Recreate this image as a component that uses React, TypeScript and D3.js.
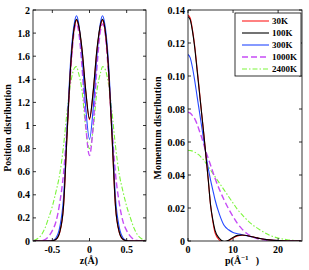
import React, { useRef, useEffect } from 'react';
import * as d3 from 'd3';

// position distribution (left panel)
const zValues = [
  -0.75, -0.7, -0.65, -0.6, -0.55, -0.5, -0.45, -0.4, -0.35, -0.3, -0.25, -0.2, -0.175, -0.15, -0.1, -0.05,
  0,
  0.05, 0.1, 0.15, 0.175, 0.2, 0.25, 0.3, 0.35, 0.4, 0.45, 0.5, 0.55, 0.6, 0.65, 0.7, 0.75,
];
const pos30K = [
  0, 0, 0, 0, 0, 0.002, 0.014, 0.075, 0.29, 0.94, 1.54, 1.86, 1.91, 1.87, 1.65, 1.29,
  1.05,
  1.29, 1.65, 1.87, 1.91, 1.86, 1.54, 0.94, 0.29, 0.075, 0.014, 0.002, 0, 0, 0, 0, 0,
];
const pos100K = [
  0, 0, 0, 0, 0, 0.002, 0.015, 0.08, 0.3, 0.95, 1.55, 1.87, 1.92, 1.88, 1.66, 1.3,
  1.06,
  1.3, 1.66, 1.88, 1.92, 1.87, 1.55, 0.95, 0.3, 0.08, 0.015, 0.002, 0, 0, 0, 0, 0,
];
const pos300K = [
  0, 0, 0, 0, 0.001, 0.004, 0.028, 0.12, 0.37, 1.0, 1.6, 1.9, 1.95, 1.9, 1.6, 1.15,
  0.88,
  1.15, 1.6, 1.9, 1.95, 1.9, 1.6, 1.0, 0.37, 0.12, 0.028, 0.004, 0.001, 0, 0, 0, 0,
];
const pos1000K = [
  0, 0, 0.003, 0.012, 0.04, 0.09, 0.17, 0.33, 0.58, 1.0, 1.5, 1.84, 1.88, 1.83, 1.5, 1.0,
  0.74,
  1.0, 1.5, 1.83, 1.88, 1.84, 1.5, 1.0, 0.58, 0.33, 0.17, 0.09, 0.04, 0.012, 0.003, 0, 0,
];
const pos2400K = [
  0.005, 0.02, 0.05, 0.11, 0.2, 0.3, 0.43, 0.58, 0.82, 1.13, 1.38, 1.5, 1.51, 1.46, 1.3, 0.97,
  0.8,
  0.97, 1.3, 1.46, 1.51, 1.5, 1.38, 1.13, 0.82, 0.58, 0.43, 0.3, 0.2, 0.11, 0.05, 0.02, 0.005,
];

// momentum distribution (right panel)
const pValues = [
  0, 0.5, 1, 1.5, 2, 2.5, 3, 3.5, 4, 4.5, 5, 5.5, 6, 7, 8, 9, 10, 11, 12, 13, 14, 15, 16, 18, 20, 22, 25,
];
const mom30K = [
  0.137, 0.135, 0.128, 0.118, 0.105, 0.092, 0.078, 0.065, 0.051, 0.037, 0.022, 0.012, 0.005, 0.0005, -0.0008,
  0.0002, 0.0018, 0.0031, 0.0035, 0.0033, 0.0027, 0.0021, 0.0015, 0.0007, 0.0002, 0, 0,
];
const mom100K = [
  0.136, 0.134, 0.127, 0.117, 0.104, 0.091, 0.078, 0.065, 0.051, 0.037, 0.022, 0.013, 0.0065, 0.0015, -0.0003,
  0.0005, 0.0022, 0.0034, 0.0036, 0.0033, 0.0027, 0.0021, 0.0015, 0.0007, 0.0002, 0, 0,
];
const mom300K = [
  0.113, 0.111, 0.105, 0.097, 0.088, 0.079, 0.07, 0.061, 0.052, 0.044, 0.037, 0.031, 0.025, 0.016, 0.0095,
  0.0068, 0.0052, 0.0044, 0.0038, 0.0032, 0.0026, 0.002, 0.0015, 0.0007, 0.0002, 0, 0,
];
const mom1000K = [
  0.078, 0.0775, 0.076, 0.074, 0.071, 0.067, 0.063, 0.0585, 0.054, 0.05, 0.046, 0.042, 0.038, 0.031, 0.025,
  0.0195, 0.0148, 0.0105, 0.0072, 0.0047, 0.003, 0.0018, 0.001, 0.0003, 0.0001, 0, 0,
];
const mom2400K = [
  0.055, 0.0548, 0.0545, 0.0538, 0.053, 0.052, 0.0505, 0.049, 0.047, 0.045, 0.043, 0.041, 0.039, 0.035, 0.031,
  0.027, 0.023, 0.019, 0.016, 0.013, 0.0105, 0.0085, 0.0067, 0.0036, 0.0018, 0.0008, 0.0001,
];

const seriesNames = ['30K', '100K', '300K', '1000K', '2400K'];
const posSeries = [pos30K, pos100K, pos300K, pos1000K, pos2400K];
const momSeries = [mom30K, mom100K, mom300K, mom1000K, mom2400K];

const posYTicks = [0, 0.2, 0.4, 0.6, 0.8, 1, 1.2, 1.4, 1.6, 1.8, 2];
const posXTicks = [-0.5, 0, 0.5];
const momYTicks = [0, 0.02, 0.04, 0.06, 0.08, 0.1, 0.12, 0.14];
const momXTicks = [0, 10, 20];

const styles = [
  { color: '#ff1a1a', dash: null, width: 1.1 },
  { color: '#000000', dash: null, width: 1.1 },
  { color: '#2448ff', dash: null, width: 1.1 },
  { color: '#c64cf5', dash: '6,3', width: 1.4 },
  { color: '#7cf53c', dash: '5,2,1.5,2', width: 1.1 },
];

const FONT = '"Liberation Serif", "Times New Roman", serif';

const App = () => {
  const svgRef = useRef(null);

  useEffect(() => {
    const width = 309;
    const height = 270;
    const svg = d3.select(svgRef.current).attr('width', width).attr('height', height);
    svg.selectAll('*').remove();
    svg.append('rect').attr('width', width).attr('height', height).attr('fill', '#fff');

    const drawPanel = (opts) => {
      const { left, right, top, bottom, xDomain, yDomain, xTicks, yTicks, xFmt, yFmt, xs, series, id } = opts;
      const x = d3.scaleLinear().domain(xDomain).range([left, right]);
      const y = d3.scaleLinear().domain(yDomain).range([bottom, top]);
      const g = svg.append('g');

      g.append('clipPath').attr('id', id).append('rect')
        .attr('x', left).attr('y', top).attr('width', right - left).attr('height', bottom - top);

      const line = d3.line()
        .x((d) => x(d[0]))
        .y((d) => y(d[1]))
        .curve(d3.curveMonotoneX);

      const order = [4, 3, 2, 0, 1];
      order.forEach((i) => {
        const s = styles[i];
        g.append('path')
          .attr('clip-path', `url(#${id})`)
          .attr('d', line(xs.map((v, j) => [v, series[i][j]])))
          .attr('fill', 'none')
          .attr('stroke', s.color)
          .attr('stroke-width', s.width)
          .attr('stroke-dasharray', s.dash);
      });

      // box
      g.append('rect')
        .attr('x', left).attr('y', top)
        .attr('width', right - left).attr('height', bottom - top)
        .attr('fill', 'none').attr('stroke', '#000').attr('stroke-width', 0.8);

      const tl = 3;
      yTicks.forEach((t) => {
        g.append('line').attr('x1', left).attr('x2', left + tl).attr('y1', y(t)).attr('y2', y(t))
          .attr('stroke', '#000').attr('stroke-width', 0.8);
        g.append('line').attr('x1', right).attr('x2', right - tl).attr('y1', y(t)).attr('y2', y(t))
          .attr('stroke', '#000').attr('stroke-width', 0.8);
        g.append('text').attr('x', left - 3).attr('y', y(t)).attr('dy', '0.35em')
          .attr('text-anchor', 'end').style('font-family', FONT).style('font-weight', 'bold')
          .style('font-size', '10px').text(yFmt(t));
      });
      xTicks.forEach((t) => {
        g.append('line').attr('x1', x(t)).attr('x2', x(t)).attr('y1', bottom).attr('y2', bottom - tl)
          .attr('stroke', '#000').attr('stroke-width', 0.8);
        g.append('line').attr('x1', x(t)).attr('x2', x(t)).attr('y1', top).attr('y2', top + tl)
          .attr('stroke', '#000').attr('stroke-width', 0.8);
        g.append('text').attr('x', x(t)).attr('y', bottom + 12)
          .attr('text-anchor', 'middle').style('font-family', FONT).style('font-weight', 'bold')
          .style('font-size', '10px').text(xFmt(t));
      });
      return { x, y };
    };

    drawPanel({
      id: 'clipPos', left: 33, right: 146, top: 10, bottom: 241,
      xDomain: [-0.76, 0.76], yDomain: [0, 2],
      xTicks: posXTicks, yTicks: posYTicks,
      xFmt: (t) => (t === 0 ? '0' : t < 0 ? '-0.5' : '0.5'),
      yFmt: (t) => (t === 0 ? '0' : d3.format('~g')(t)),
      xs: zValues, series: posSeries,
    });

    drawPanel({
      id: 'clipMom', left: 188, right: 302, top: 10, bottom: 241,
      xDomain: [0, 25.3], yDomain: [0, 0.14],
      xTicks: momXTicks, yTicks: momYTicks,
      xFmt: (t) => String(t),
      yFmt: (t) => (t === 0 ? '0' : d3.format('.2f')(t)),
      xs: pValues, series: momSeries,
    });

    // axis labels
    svg.append('text')
      .attr('transform', 'translate(11,128) rotate(-90)')
      .attr('text-anchor', 'middle').style('font-family', FONT).style('font-weight', 'bold')
      .style('font-size', '10px').text('Position distribution');
    svg.append('text')
      .attr('transform', 'translate(161,128) rotate(-90)')
      .attr('text-anchor', 'middle').style('font-family', FONT).style('font-weight', 'bold')
      .style('font-size', '10px').text('Momentum distribution');

    svg.append('text').attr('x', 89).attr('y', 264)
      .attr('text-anchor', 'middle').style('font-family', FONT).style('font-weight', 'bold')
      .style('font-size', '10px').text('z(Å)');

    const pl = svg.append('text').attr('x', 225).attr('y', 264)
      .style('font-family', FONT).style('font-weight', 'bold').style('font-size', '10px')
      .style('white-space', 'pre');
    pl.append('tspan').text('p(Å');
    pl.append('tspan').attr('dy', -4).style('font-size', '7px').text('−1');
    pl.append('tspan').attr('dy', 4).attr('dx', 7).text(')');

    // legend
    const lg = svg.append('g');
    lg.append('rect').attr('x', 235).attr('y', 13).attr('width', 66).attr('height', 63)
      .attr('fill', '#fff').attr('stroke', '#000').attr('stroke-width', 0.8);
    seriesNames.forEach((name, i) => {
      const ly = 21 + i * 12;
      const s = styles[i];
      lg.append('line').attr('x1', 242).attr('x2', 269).attr('y1', ly).attr('y2', ly)
        .attr('stroke', s.color).attr('stroke-width', s.width).attr('stroke-dasharray', s.dash);
      lg.append('text').attr('x', 272).attr('y', ly).attr('dy', '0.35em')
        .style('font-family', FONT).style('font-weight', 'bold').style('font-size', '9px').text(name);
    });
  }, []);

  return (
    <div style={{ position: 'absolute', left: 0, top: 0, width: 309, height: 270 }}>
      <svg ref={svgRef}></svg>
    </div>
  );
};

export default App;
